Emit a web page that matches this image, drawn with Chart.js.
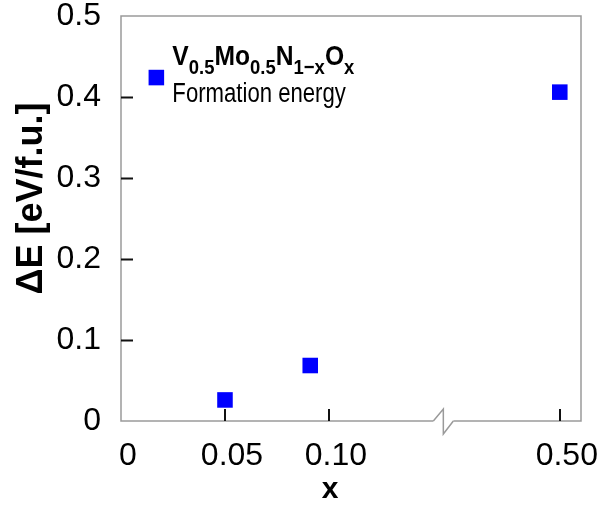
<!DOCTYPE html>
<html>
<head>
<meta charset="utf-8">
<script src="https://cdn.jsdelivr.net/npm/chart.js@4.4.1/dist/chart.umd.min.js"></script>
<style>
  body { margin: 0; background: #fff; }
  #grafico { display: block; }
</style>
</head>
<body>
<canvas id="grafico" width="608" height="508"></canvas>
<script>
// dados
var xValues = [0.017, 0.05, 0.091, 0.50];
var dEValues = [0.424, 0.026, 0.0685, 0.406];
var xTickValues = [0, 0.05, 0.10, 0.50];
var xTickLabels = ['0', '0.05', '0.10', '0.50'];
var yTickValues = [0, 0.1, 0.2, 0.3, 0.4, 0.5];

// eixo x quebrado entre 0.10 e 0.50
var quebraIni = 0.15;
var posQuebra = 0.155;
var pos050 = 0.211;
function toAxis(v) {
    return v <= quebraIni ? v : pos050 + (v - 0.5) * 0.2;
}

var fonte = '"Liberation Sans", Arial, sans-serif';

var molduraPlugin = {
    id: 'moldura',
    afterDraw: function (chart) {
        var ctx = chart.ctx;
        var a = chart.chartArea;
        var xs = chart.scales.x;
        var ys = chart.scales.y;
        ctx.save();
        // moldura cinza
        var bx = xs.getPixelForValue(posQuebra);
        ctx.strokeStyle = '#9a9a9a';
        ctx.lineWidth = 1.5;
        ctx.beginPath();
        ctx.moveTo(bx - 10, a.bottom);
        ctx.lineTo(a.left, a.bottom);
        ctx.lineTo(a.left, a.top);
        ctx.lineTo(a.right, a.top);
        ctx.lineTo(a.right, a.bottom);
        ctx.lineTo(bx + 10, a.bottom);
        ctx.stroke();
        ctx.beginPath();
        ctx.moveTo(bx - 10, a.bottom);
        ctx.lineTo(bx, a.bottom - 12);
        ctx.lineTo(bx, a.bottom + 13);
        ctx.lineTo(bx + 10, a.bottom);
        ctx.stroke();
        // marcas para dentro
        ctx.strokeStyle = '#111';
        ctx.lineWidth = 2;
        ctx.beginPath();
        yTickValues.forEach(function (v) {
            if (v <= 0 || v >= 0.5) return;
            var py = Math.round(ys.getPixelForValue(v)) + 0.5;
            ctx.moveTo(a.left, py);
            ctx.lineTo(a.left + 12, py);
        });
        xTickValues.forEach(function (v) {
            if (v <= 0) return;
            var px = Math.round(xs.getPixelForValue(toAxis(v)));
            ctx.moveTo(px, a.bottom);
            ctx.lineTo(px, a.bottom - 12);
        });
        ctx.stroke();
        // texto da legenda
        var tx = xs.getPixelForValue(toAxis(xValues[0])) + 16;
        var ty = ys.getPixelForValue(dEValues[0]);
        var partes = [['V', 0], ['0.5', 1], ['Mo', 0], ['0.5', 1], ['N', 0], ['1\u2212x', 1], ['O', 0], ['x', 1]];
        ctx.fillStyle = '#000';
        ctx.textBaseline = 'alphabetic';
        ctx.save();
        ctx.translate(tx, 0);
        ctx.scale(0.88, 1);
        var cx = 0;
        partes.forEach(function (p) {
            ctx.font = 'bold ' + (p[1] ? 21 : 28) + 'px ' + fonte;
            ctx.fillText(p[0], cx, ty - 13 + (p[1] ? 9 : 0));
            cx += ctx.measureText(p[0]).width;
        });
        ctx.restore();
        ctx.save();
        ctx.translate(tx, 0);
        ctx.scale(0.82, 1);
        ctx.font = '27px ' + fonte;
        ctx.fillText('Formation energy', 0, ty + 24);
        ctx.restore();
        ctx.restore();
    }
};

function carregarGrafico() {
    var ctx = document.getElementById('grafico');
    var pontos = [];
    for (var i = 0; i < xValues.length; i++) {
        pontos.push({ x: toAxis(xValues[i]), y: dEValues[i] });
    }
    new Chart(ctx, {
        type: 'scatter',
        data: {
            datasets: [{
                label: 'Formation energy',
                data: pontos,
                pointStyle: 'rect',
                pointRadius: 11,
                backgroundColor: '#0000ff',
                borderColor: '#0000ff',
                borderWidth: 0
            }]
        },
        options: {
            responsive: false,
            animation: false,
            layout: { padding: { top: 16, right: 27, left: 0, bottom: 0 } },
            plugins: { legend: { display: false }, tooltip: { enabled: false } },
            scales: {
                x: {
                    type: 'linear',
                    min: 0,
                    max: 0.2212,
                    grid: { display: false },
                    border: { display: false },
                    afterBuildTicks: function (scale) {
                        scale.ticks = xTickValues.map(function (v) { return { value: toAxis(v) }; });
                    },
                    afterFit: function (scale) {
                        scale.height = 87;
                        scale.paddingLeft = 0;
                        scale.paddingRight = 0;
                    },
                    ticks: {
                        padding: 8,
                        labelOffset: 7,
                        maxRotation: 0,
                        autoSkip: false,
                        color: '#000',
                        font: { family: fonte, size: 32 },
                        callback: function (val, idx) { return xTickLabels[idx]; }
                    },
                    title: {
                        display: true,
                        text: 'x     ',
                        color: '#000',
                        padding: { top: 0, bottom: 0 },
                        font: { family: fonte, size: 30, weight: 'bold' }
                    }
                },
                y: {
                    min: 0,
                    max: 0.5,
                    grid: { display: false },
                    border: { display: false },
                    afterBuildTicks: function (scale) {
                        scale.ticks = yTickValues.map(function (v) { return { value: v }; });
                    },
                    afterFit: function (scale) {
                        scale.width = 121;
                        scale.paddingTop = 0;
                        scale.paddingBottom = 0;
                    },
                    ticks: {
                        padding: 12,
                        color: '#000',
                        font: { family: fonte, size: 32 },
                        callback: function (v) { return v === 0 ? '0' : v.toFixed(1); }
                    },
                    title: {
                        display: true,
                        text: '    \u0394E [eV/f.u.]',
                        color: '#000',
                        padding: { top: 10, bottom: 0 },
                        font: { family: fonte, size: 36, weight: 'bold' }
                    }
                }
            }
        },
        plugins: [molduraPlugin]
    });
}

window.onload = function () {
    carregarGrafico();
};
</script>
</body>
</html>
